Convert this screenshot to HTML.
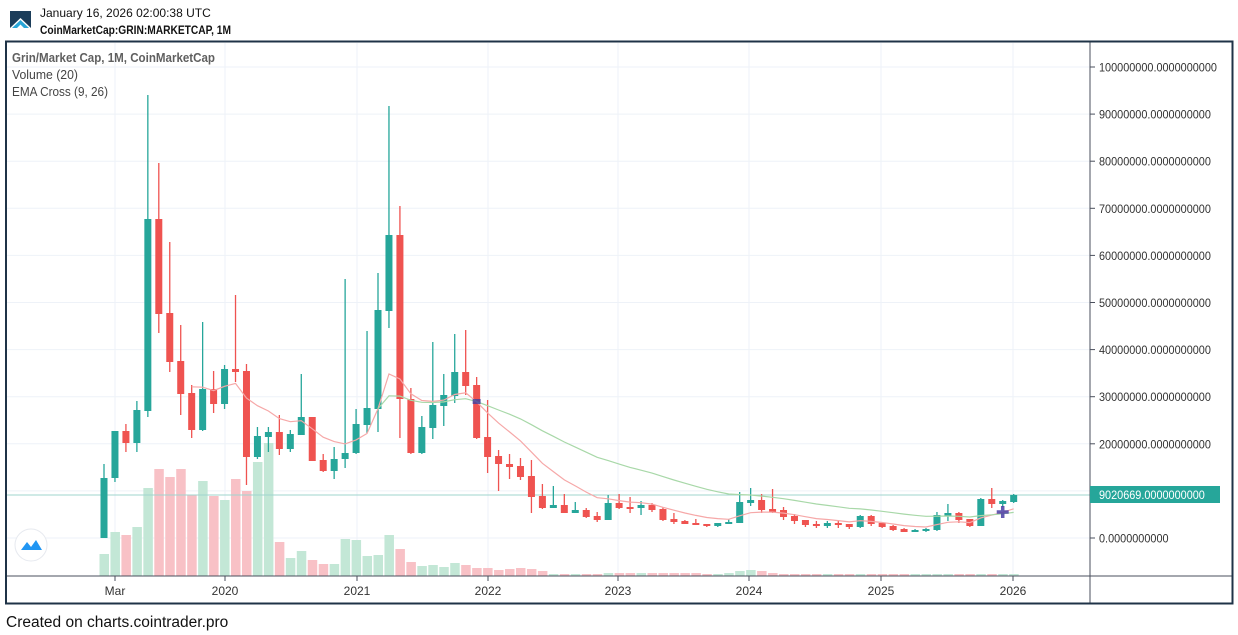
<!DOCTYPE html>
<html><head><meta charset="utf-8"><style>
body{margin:0;background:#fff;width:1238px;height:635px;overflow:hidden;font-family:"Liberation Sans",sans-serif}
svg{position:absolute;left:0;top:0}
</style></head><body>
<svg id="s" width="1238" height="635" xmlns="http://www.w3.org/2000/svg" font-family="Liberation Sans, sans-serif"></svg>
<script>
const C=[[538,464,538,478],[478,431,482,431],[431,424,452,443],[443,401,452,410],[411,95,417,219],[219,163,333,314],[313,242,372,362],[361,325,415,394],[393,385,438,430],[430,322,431,389],[389,371,413,404],[404,365,409,369],[369,295,382,372],[371,364,485,457],[457,427,459,436],[437,427,452,432],[432,415,455,449],[449,430,452,434],[435,374,435,417],[417,417,461,461],[460,454,472,471],[471,447,479,459],[459,279,468,453],[453,409,454,424],[425,331,433,408],[409,273,432,310],[311,106,328,235],[235,206,438,399],[399,388,454,453],[453,416,454,427],[428,342,439,405],[406,374,426,395],[396,334,403,372],[372,330,395,386],[385,377,439,438],[437,400,473,457],[456,450,491,464],[464,454,479,467],
[466,458,480,477],[476,460,513,497],[496,484,509,508],[508,486,508,505],[505,494,513,513],[513,502,513,510],[510,508,518,517],[516,512,522,520],[520,495,520,503],[503,494,509,508],[507,497,513,508],[508,501,515,505],[505,503,512,510],[509,507,521,520],[519,513,524,522],[521,520,524,524],[523,519,525,525],[524,524,527,526],[526,523,527,523],[524,519,524,522],[523,492,523,502],[503,488,506,500],[500,494,513,510],[509,489,513,512],[510,507,520,517],[516,514,524,521],[520,520,527,525],[524,521,528,526],[526,521,528,523],[523,521,528,525],[524,524,529,527],[527,515,528,516],[516,515,526,524],[523,522,528,527],[526,525,531,530],[529,528,532,532],[532,529,532,530],[531,528,532,529],[530,512,531,515],[516,504,521,513],[513,512,523,520],[519,519,527,526],[526,498,526,499],[499,488,508,504],[504,500,507,501],[502,494,503,495]];
const V=[554,532,535,527,488,469,477,469,495,481,496,500,479,491,462,443,542,558,551,560,564,564,539,540,556,555,535,549,562,566,565,567,563,565,568,568,570,569,568,569,571,574,574,574,574,574,573,573,573,573,573,573,573,573,573,574,574,573,571,570,571,573,574,574,574,574,574,574,574,574,574,574,574,574,574,574,574,574,574,574,574,574,574,574];
let h='';
const X=i=>104+i*10.96;
for(let k=0;k<=10;k++){const y=538-k*47.1;h+=`<line x1="7" x2="1090" y1="${y}" y2="${y}" stroke="#eef2f8"/>`;}
const xt=[[115,'Mar'],[225,'2020'],[357,'2021'],[488,'2022'],[618,'2023'],[749,'2024'],[881,'2025'],[1013,'2026']];
xt.forEach(t=>{h+=`<line x1="${t[0]}" x2="${t[0]}" y1="43" y2="576" stroke="#eef2f8"/>`;});
V.forEach((v,i)=>{const c=C[i];const g=c[3]<=c[0];h+=`<rect x="${X(i)-4.5}" y="${v}" width="9.5" height="${576-v}" fill="${g?'#c3e7d6':'#f8c1c6'}"/>`;});
h+=`<line x1="7" x2="1090" y1="495" y2="495" stroke="#9fd4ce" stroke-width="1"/>`;
C.forEach((c,i)=>{const x=X(i);const g=c[3]<=c[0];const col=g?'#26a69a':'#ef5350';const t=Math.min(c[0],c[3]),b=Math.max(c[0],c[3]);
h+=`<line x1="${x}" x2="${x}" y1="${c[1]}" y2="${c[2]}" stroke="${col}" stroke-width="1.3"/>`;
h+=`<rect x="${x-3.5}" y="${t}" width="7" height="${Math.max(b-t,2)}" fill="${col}"/>`;});
function ema(n){let a=[],s=0;for(let i=0;i<C.length;i++){if(i<n-1){s+=C[i][3];a.push(null);}else if(i==n-1){s+=C[i][3];a.push(s/n);}else{const k=2/(n+1);a.push(C[i][3]*k+a[i-1]*(1-k));}}return a;}
[[ema(9),'#f6a8a8'],[ema(26),'#a8d8a8']].forEach(e=>{let p='';e[0].forEach((v,i)=>{if(v!=null)p+=(p?'L':'M')+X(i)+' '+v.toFixed(1);});h+=`<path d="${p}" fill="none" stroke="${e[1]}" stroke-width="1.2"/>`;});
h+=`<rect x="${X(34)-4}" y="399" width="8" height="5" fill="#3f3fa0" opacity=".8"/>`;
h+=`<path d="M${X(82)-6} 512H${X(82)+6}M${X(82)} 506V518" stroke="#4b3fa5" stroke-width="3.5" opacity=".85"/>`;
h+=`<line x1="1090" x2="1090" y1="42" y2="604" stroke="#4a4f5c" stroke-width="1"/>`;
h+=`<line x1="6" x2="1233" y1="576" y2="576" stroke="#4a4f5c" stroke-width="1"/>`;
xt.forEach(t=>{h+=`<line x1="${t[0]}" x2="${t[0]}" y1="576" y2="581" stroke="#4a4f5c"/><text x="${t[0]}" y="595" font-size="12" fill="#333" text-anchor="middle">${t[1]}</text>`;});
for(let k=0;k<=10;k++){const y=538-k*47.1;const s=(k==0?'0':String(k*10000000))+'.0000000000';const L=(s.length-1)*6.05+3;
h+=`<line x1="1090" x2="1095" y1="${y}" y2="${y}" stroke="#4a4f5c"/><text x="1099" y="${y+4.5}" font-size="12" fill="#333" textLength="${L}" lengthAdjust="spacingAndGlyphs">${s}</text>`;}
h+=`<rect x="1090" y="486" width="130" height="17" fill="#26a69a"/><text x="1099" y="499" font-size="12" fill="#fff" textLength="${17*6.05+3}" lengthAdjust="spacingAndGlyphs">9020669.0000000000</text>`;
h+=`<rect x="6" y="41.5" width="1226.5" height="562" fill="none" stroke="#1f3347" stroke-width="2"/>`;
h+=`<text x="12" y="62" font-size="13" fill="#444" font-weight="bold" opacity=".85" textLength="203" lengthAdjust="spacingAndGlyphs">Grin/Market Cap, 1M, CoinMarketCap</text>`;
h+=`<text x="12" y="79" font-size="13" fill="#444" textLength="66" lengthAdjust="spacingAndGlyphs">Volume (20)</text><text x="12" y="96" font-size="13" fill="#444" textLength="96" lengthAdjust="spacingAndGlyphs">EMA Cross (9, 26)</text>`;
h+=`<polygon points="10,11 31,11 31,28 20.5,18 10,28" fill="#1c3d5a"/><polygon points="12,28 20.5,20 29,28 24,28 20.5,24.5 17,28" fill="#2aa6d8"/>`;
h+=`<text x="40" y="17" font-size="12" fill="#111">January 16, 2026 02:00:38 UTC</text><text x="40" y="34" font-size="12" font-weight="bold" fill="#111" textLength="191" lengthAdjust="spacingAndGlyphs">CoinMarketCap:GRIN:MARKETCAP, 1M</text>`;
h+=`<text x="6" y="627" font-size="15.5" fill="#111">Created on charts.cointrader.pro</text>`;
h+=`<circle cx="31" cy="545" r="16" fill="#fff" stroke="#e6e9ef"/><path d="M21 550 L27 542 L31 547 L36 540 L42 550Z" fill="#2196f3"/>`;
document.getElementById('s').innerHTML=h;
</script>
</body></html>
